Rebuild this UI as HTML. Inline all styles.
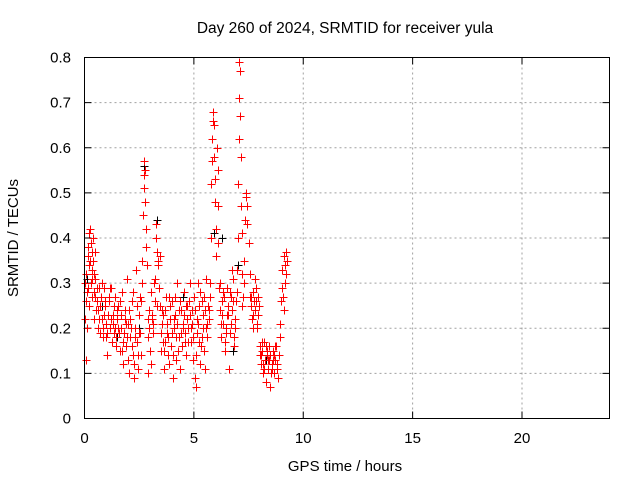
<!DOCTYPE html>
<html><head><meta charset="utf-8"><style>
body{margin:0;background:#fff}
svg text{font-family:"Liberation Sans",Arial,sans-serif;font-size:15px;fill:#000}
</style></head><body>
<svg id="chart" width="640" height="480" xmlns="http://www.w3.org/2000/svg">
<rect width="640" height="480" fill="#fff"/>
<text x="345" y="33" text-anchor="middle" style="font-size:15.5px">Day 260 of 2024, SRMTID for receiver yula</text>
<text x="345" y="471" text-anchor="middle">GPS time / hours</text>
<text transform="translate(18,238) rotate(-90)" text-anchor="middle">SRMTID / TECUs</text>
<g id="grid"></g>
<g id="ticks"></g>
<g id="black"></g>
<g id="red"></g>
<rect x="84.5" y="57.5" width="525" height="361" fill="none" stroke="#000" stroke-width="1"/>
</svg>
<script>
const xTicks=[0,5,10,15,20];
const yTicks=[0,0.1,0.2,0.3,0.4,0.5,0.6,0.7,0.8];
const redT=[0.0,0.05,0.08,0.1,0.12,0.15,0.18,0.2,0.22,0.25,0.28,0.3,0.33,0.35,0.38,0.4,0.43,0.45,0.48,0.5,0.55,0.6,0.65,0.7,0.75,0.8,0.85,0.9,0.95,1.0,1.05,1.1,1.15,1.2,1.25,1.3,1.35,1.4,1.45,1.5,1.55,1.6,1.65,1.7,1.75,1.8,1.85,1.9,1.95,2.0,2.05,2.1,2.15,2.2,2.25,2.3,2.35,2.4,2.45,2.5,2.55,2.6,2.62,2.65,2.68,2.7,2.72,2.74,2.76,2.78,2.8,2.82,2.85,2.88,2.9,2.95,3.0,3.05,3.1,3.15,3.2,3.25,3.28,3.3,3.35,3.4,3.45,3.5,3.55,3.6,3.65,3.7,3.75,3.8,3.85,3.9,3.95,4.0,4.05,4.1,4.15,4.2,4.25,4.3,4.35,4.4,4.45,4.5,4.55,4.6,4.65,4.7,4.75,4.8,4.85,4.9,4.95,5.0,5.05,5.08,5.1,5.15,5.2,5.25,5.3,5.35,5.4,5.45,5.5,5.55,5.6,5.65,5.7,5.75,5.78,5.8,5.82,5.84,5.86,5.88,5.9,5.93,5.95,5.98,6.0,6.02,6.05,6.08,6.1,6.12,6.15,6.2,6.25,6.3,6.35,6.4,6.45,6.5,6.55,6.6,6.65,6.7,6.75,6.8,6.85,6.9,6.95,7.0,7.02,7.04,7.06,7.08,7.1,7.12,7.14,7.16,7.18,7.2,7.25,7.3,7.35,7.38,7.4,7.42,7.45,7.5,7.55,7.6,7.65,7.7,7.75,7.8,7.85,7.9,7.95,8.0,8.05,8.1,8.15,8.2,8.25,8.3,8.35,8.4,8.45,8.5,8.55,8.6,8.65,8.7,8.75,8.8,8.85,8.9,8.95,9.0,9.05,9.1,9.15,9.2,9.25];
const redV=[0.30,0.32,0.13,0.28,0.20,0.38,0.36,0.25,0.41,0.42,0.30,0.39,0.33,0.27,0.40,0.35,0.28,0.22,0.37,0.31,0.26,0.24,0.29,0.19,0.27,0.22,0.18,0.29,0.25,0.21,0.14,0.26,0.20,0.29,0.17,0.23,0.19,0.27,0.16,0.22,0.25,0.15,0.20,0.28,0.12,0.19,0.24,0.16,0.31,0.21,0.10,0.18,0.26,0.14,0.09,0.20,0.33,0.17,0.11,0.23,0.19,0.26,0.30,0.35,0.45,0.51,0.54,0.57,0.55,0.48,0.42,0.38,0.34,0.22,0.10,0.20,0.15,0.28,0.23,0.19,0.31,0.40,0.43,0.37,0.34,0.29,0.25,0.15,0.21,0.17,0.11,0.24,0.19,0.14,0.27,0.22,0.16,0.26,0.09,0.20,0.23,0.13,0.30,0.18,0.11,0.24,0.16,0.21,0.28,0.19,0.14,0.25,0.20,0.30,0.17,0.24,0.13,0.27,0.09,0.07,0.14,0.22,0.30,0.17,0.12,0.26,0.20,0.15,0.24,0.31,0.18,0.25,0.22,0.30,0.40,0.52,0.57,0.62,0.66,0.68,0.65,0.58,0.53,0.48,0.42,0.36,0.60,0.55,0.47,0.39,0.29,0.24,0.18,0.26,0.21,0.15,0.20,0.29,0.23,0.11,0.19,0.27,0.33,0.31,0.16,0.22,0.28,0.40,0.52,0.62,0.71,0.79,0.77,0.67,0.58,0.47,0.41,0.32,0.27,0.35,0.44,0.50,0.49,0.43,0.47,0.39,0.32,0.25,0.22,0.28,0.26,0.24,0.29,0.20,0.27,0.16,0.12,0.15,0.10,0.17,0.13,0.08,0.14,0.11,0.16,0.07,0.12,0.15,0.10,0.13,0.16,0.11,0.09,0.14,0.21,0.26,0.33,0.36,0.30,0.37,0.35];
const red2T=[0.03,0.14,0.27,0.36,0.46,0.58,0.68,0.78,0.88,0.98,1.08,1.18,1.28,1.38,1.48,1.58,1.68,1.78,1.88,1.98,2.08,2.18,2.28,2.38,2.48,2.58,2.92,3.02,3.12,3.22,3.38,3.48,3.58,3.68,3.78,3.88,3.98,4.08,4.18,4.28,4.38,4.48,4.58,4.68,4.78,4.88,4.98,5.12,5.22,5.32,5.42,5.52,5.62,5.72,6.18,6.28,6.38,6.48,6.58,6.68,6.78,6.88,6.98,7.22,7.28,7.58,7.68,7.78,7.88,7.98,8.08,8.18,8.28,8.38,8.48,8.58,8.68,8.78,8.92,9.02,9.12,9.22];
const red2V=[0.22,0.29,0.35,0.31,0.27,0.29,0.22,0.30,0.23,0.18,0.23,0.29,0.21,0.20,0.24,0.19,0.23,0.17,0.21,0.13,0.22,0.16,0.12,0.25,0.19,0.14,0.18,0.12,0.21,0.26,0.35,0.19,0.23,0.17,0.21,0.12,0.19,0.22,0.18,0.15,0.26,0.20,0.17,0.22,0.26,0.20,0.18,0.19,0.25,0.16,0.23,0.11,0.21,0.27,0.30,0.23,0.27,0.19,0.25,0.21,0.26,0.20,0.33,0.25,0.30,0.27,0.23,0.31,0.21,0.25,0.14,0.12,0.16,0.13,0.14,0.11,0.14,0.12,0.18,0.29,0.24,0.32];
const red3T=[0.07,0.2,0.32,0.42,0.52,0.63,0.73,0.83,0.93,1.03,1.13,1.23,1.33,1.43,1.53,1.63,1.73,1.83,1.93,2.03,2.13,2.23,2.33,2.43,2.53,2.97,3.07,3.17,3.33,3.43,3.53,3.63,3.73,3.83,3.93,4.03,4.13,4.23,4.33,4.43,4.53,4.63,4.73,4.83,4.93,5.03,5.17,5.27,5.37,5.47,5.57,5.67,6.23,6.33,6.43,6.53,6.63,6.73,6.83,6.93,7.62,7.72,7.82,7.92,8.02,8.12,8.22,8.32,8.42,8.52,8.62,8.72,8.82,9.07,9.17];
const red3V=[0.26,0.34,0.37,0.32,0.24,0.20,0.25,0.20,0.26,0.19,0.27,0.22,0.25,0.18,0.20,0.26,0.15,0.22,0.18,0.24,0.20,0.28,0.18,0.14,0.27,0.24,0.22,0.30,0.25,0.36,0.24,0.15,0.27,0.18,0.25,0.14,0.27,0.21,0.24,0.19,0.23,0.25,0.17,0.23,0.21,0.24,0.21,0.28,0.18,0.27,0.20,0.24,0.21,0.28,0.17,0.23,0.28,0.24,0.18,0.26,0.27,0.20,0.26,0.23,0.14,0.17,0.11,0.15,0.13,0.10,0.13,0.16,0.12,0.27,0.34];
const blackT=[0.1,0.8,1.5,2.5,2.7,3.3,4.5,5.9,6.3,6.8,7.0,8.3];
const blackV=[0.31,0.25,0.18,0.20,0.56,0.44,0.27,0.41,0.40,0.15,0.34,0.13];
const X0=84.5,X1=609.5,Y0=418.5,Y1=57.5;
const sx=t=>X0+t/24*(X1-X0);
const sy=v=>Y0-v/0.8*(Y0-Y1);
const NS="http://www.w3.org/2000/svg";
const grid=document.getElementById('grid'),ticks=document.getElementById('ticks');
function ln(g,x1,y1,x2,y2,st,dash){const l=document.createElementNS(NS,'line');l.setAttribute('x1',x1);l.setAttribute('y1',y1);l.setAttribute('x2',x2);l.setAttribute('y2',y2);l.setAttribute('stroke',st);if(dash)l.setAttribute('stroke-dasharray',dash);g.appendChild(l);return l;}
function tx(g,x,y,s,a){const t=document.createElementNS(NS,'text');t.setAttribute('x',x);t.setAttribute('y',y);t.setAttribute('text-anchor',a);t.textContent=s;g.appendChild(t);return t;}
xTicks.forEach(v=>{const x=sx(v);
 if(v>0){const g=ln(grid,x,Y1,x,Y0,'#a0a0a0','2,3');}
 ln(ticks,x,Y0,x,Y0-7,'#000');ln(ticks,x,Y1,x,Y1+7,'#000');
 const t=tx(ticks,x,443,String(v),'middle');
 
 });
yTicks.forEach(v=>{const y=sy(v);
 if(v>0&&v<0.8){const g=ln(grid,X0,y,X1,y,'#a0a0a0','2,3');}
 ln(ticks,X0,y,X0+7,y,'#000');ln(ticks,X1,y,X1-7,y,'#000');
 const t=tx(ticks,71,y+5,v===0?'0':v.toFixed(1),'end');
 
 });
function plus(g,t,v,c){const x=Math.round(sx(t))+0.5,y=Math.round(sy(v))+0.5;
 const p=document.createElementNS(NS,'path');
 p.setAttribute('d',`M${x-4} ${y}H${x+4}M${x} ${y-4}V${y+4}`);
 p.setAttribute('stroke',c);p.setAttribute('fill','none');
 
 
 g.appendChild(p);}
const gb=document.getElementById('black'),gr=document.getElementById('red');
blackT.forEach((t,i)=>plus(gb,t,blackV[i],'#000'));
redT.forEach((t,i)=>plus(gr,t,redV[i],'#ff0000'));
red2T.forEach((t,i)=>plus(gr,t,red2V[i],'#ff0000'));
red3T.forEach((t,i)=>plus(gr,t,red3V[i],'#ff0000'));
</script>
</body></html>
